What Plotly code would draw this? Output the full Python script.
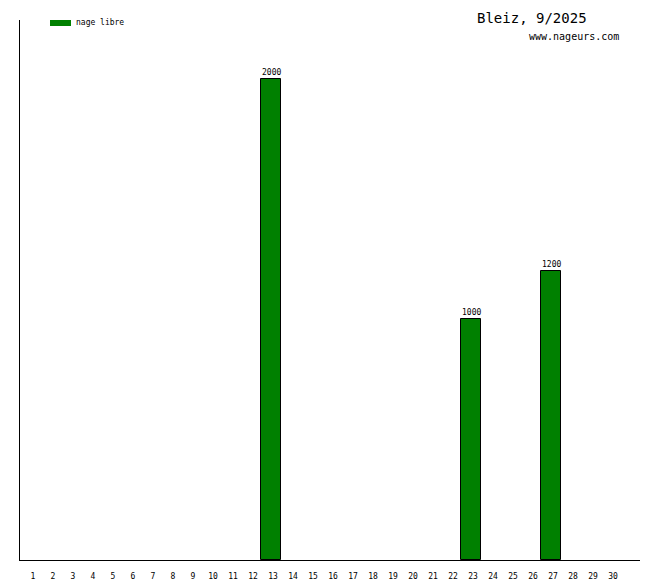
import plotly.graph_objects as go

days = list(range(1, 31))
distances = [0] * 30
distances[12] = 2000   # 13
distances[22] = 1000   # 23
distances[26] = 1200   # 27

title_text = "Bleiz, 9/2025"
site_text = "www.nageurs.com"
legend_text = "nage libre"
mono = "DejaVu Sans Mono"

bar_days = [d for d, v in zip(days, distances) if v > 0]
bar_vals = [v for v in distances if v > 0]

fig = go.Figure()
fig.add_trace(
    go.Bar(
        x=bar_days,
        y=bar_vals,
        width=1.0,
        marker={"color": "#008000", "line": {"color": "black", "width": 1}},
        showlegend=False,
        hoverinfo="x+y",
    )
)

# value labels sitting right on top of the bars
for d, v in zip(bar_days, bar_vals):
    fig.add_annotation(text=str(v), x=d, y=v, xref="x", yref="y",
                       xanchor="center", yanchor="bottom", yshift=0,
                       showarrow=False,
                       font={"family": mono, "size": 8, "color": "black"})

# legend swatch + label
fig.add_shape(type="rect", xref="paper", yref="paper",
              x0=30 / 620, x1=51 / 620, y0=534 / 540, y1=540 / 540,
              fillcolor="#008000", line_width=0)
fig.add_annotation(text=legend_text, xref="paper", yref="paper",
                   x=54 / 620, y=537 / 540, xanchor="left", yanchor="middle",
                   showarrow=False, font={"family": mono, "size": 8, "color": "black"})

fig.add_annotation(text=title_text, xref="paper", yref="paper",
                   x=512 / 620, y=542 / 540, xanchor="center", yanchor="middle",
                   showarrow=False, font={"family": mono, "size": 14, "color": "black"})
fig.add_annotation(text=site_text, xref="paper", yref="paper",
                   x=554 / 620, y=523 / 540, xanchor="center", yanchor="middle",
                   showarrow=False, font={"family": mono, "size": 10, "color": "black"})

fig.update_layout(
    width=660,
    height=580,
    margin={"l": 20, "r": 20, "t": 20, "b": 20},
    paper_bgcolor="white",
    plot_bgcolor="white",
    bargap=0,
    showlegend=False,
    xaxis={
        "range": [0.45, 31.45],
        "tickvals": days,
        "ticktext": [str(d) for d in days],
        "ticks": "",
        "showgrid": False,
        "zeroline": False,
        "showline": True,
        "linecolor": "black",
        "linewidth": 1,
        "tickfont": {"family": mono, "size": 8, "color": "black"},
        "ticklabelshift": 2,
        "ticklabelstandoff": 8,
        "automargin": False,
        "fixedrange": True,
    },
    yaxis={
        "range": [0, 2245],
        "showticklabels": False,
        "ticks": "",
        "showgrid": False,
        "zeroline": False,
        "showline": True,
        "linecolor": "black",
        "linewidth": 1,
        "automargin": False,
        "fixedrange": True,
    },
)

fig.write_html(
    "out.html",
    config={"displayModeBar": False},
    post_script="document.body.style.margin='0';",
)
